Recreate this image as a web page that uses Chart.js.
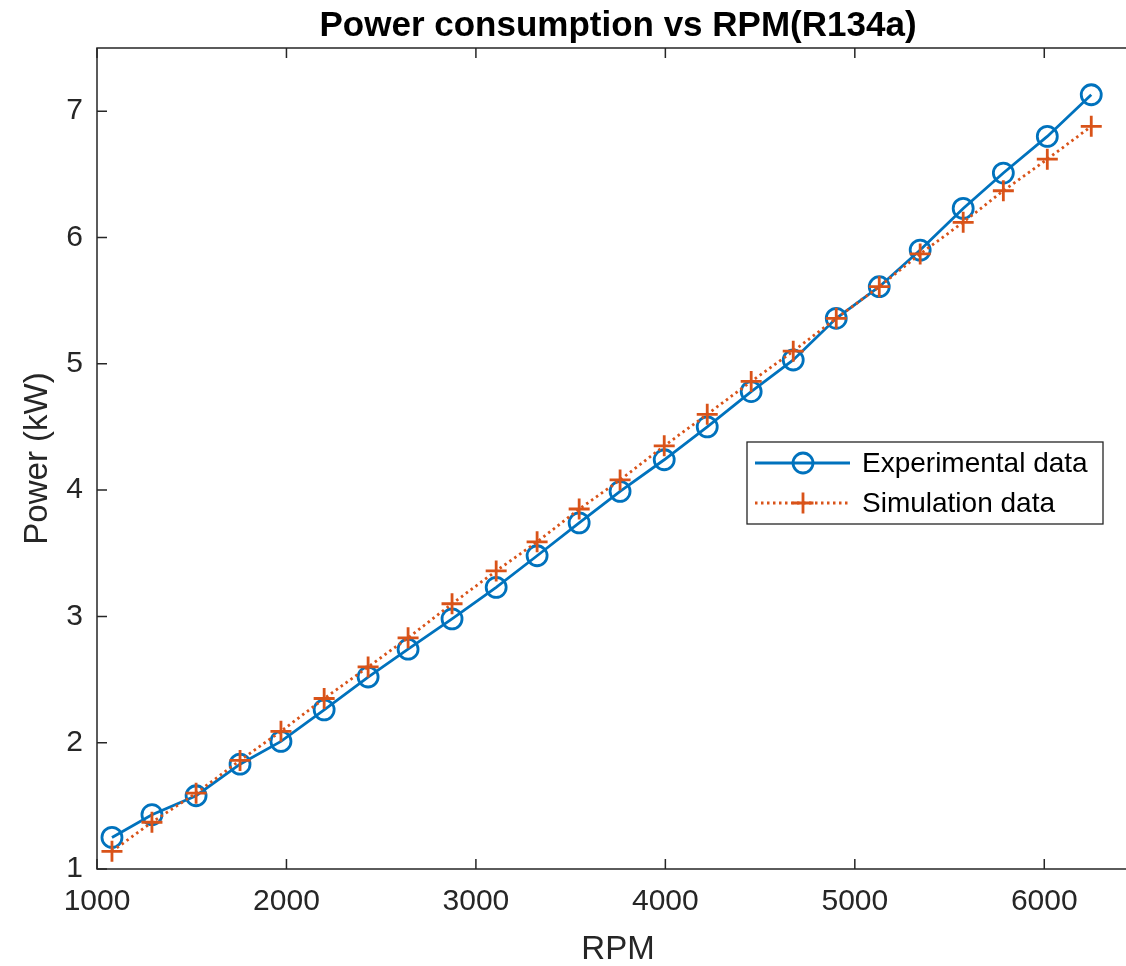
<!DOCTYPE html>
<html><head><meta charset="utf-8">
<script src="https://cdn.jsdelivr.net/npm/chart.js@4/dist/chart.umd.min.js"></script>
<style>html,body{margin:0;padding:0;overflow:hidden;background:#fff;width:1126px;height:966px}
canvas{display:block}</style></head>
<body><canvas id="c" width="1126" height="966" style="width:1126px;height:966px"></canvas>
<script>
const rpm = [1079,1290,1523,1755,1971,2199,2431,2642,2874,3107,3323,3545,3761,3994,4221,4453,4675,4902,5129,5345,5572,5784,6016,6248];
const experimental = [1.25,1.43,1.58,1.83,2.01,2.26,2.52,2.74,2.98,3.23,3.48,3.74,3.99,4.24,4.50,4.78,5.03,5.36,5.61,5.90,6.23,6.51,6.80,7.13];
const simulation = [1.14,1.37,1.60,1.86,2.09,2.35,2.60,2.83,3.10,3.36,3.59,3.85,4.08,4.35,4.60,4.86,5.10,5.36,5.61,5.87,6.12,6.37,6.62,6.88];
const xTicks = [1000,2000,3000,4000,5000,6000];
const yTicks = [1,2,3,4,5,6,7];
const xRange = [1000, 6500];   // the right edge of the axes lies just outside the picture
const yRange = [1, 7.5];
const seriesNames = ['Experimental data','Simulation data'];
const titleText = 'Power consumption vs RPM(R134a)';
const xLabel = 'RPM';
const yLabel = 'Power (kW)';

const FONT = "'Liberation Sans', Arial, Helvetica, sans-serif";
const AX = '#262626';
const BLUE = '#0072BD';
const ORANGE = '#D95319';

const boxPlugin = {
  id: 'mbox',
  afterLayout(chart) {
    const a = chart.chartArea, xs = chart.scales.x;
    const R = a.left + 1042;           // axes box extends past the visible canvas
    a.right = R; a.width = R - a.left;
    xs.right = R; xs.width = R - xs.left;
    xs.configure();
    if (chart.titleBlock) chart.titleBlock.right = R;
  },
  afterDraw(chart) {
    const ctx = chart.ctx, a = chart.chartArea;
    const xs = chart.scales.x, ys = chart.scales.y;
    ctx.save();
    ctx.strokeStyle = AX; ctx.lineWidth = 1.5;
    ctx.strokeRect(a.left, a.top, a.right - a.left, a.bottom - a.top);
    ctx.beginPath();
    const L = 10;
    xs.ticks.forEach(t => {
      const p = xs.getPixelForValue(t.value);
      ctx.moveTo(p, a.bottom); ctx.lineTo(p, a.bottom - L);
      ctx.moveTo(p, a.top); ctx.lineTo(p, a.top + L);
    });
    ys.ticks.forEach(t => {
      const p = ys.getPixelForValue(t.value);
      ctx.moveTo(a.left, p); ctx.lineTo(a.left + L, p);
      ctx.moveTo(a.right, p); ctx.lineTo(a.right - L, p);
    });
    ctx.stroke();
    // legend
    const bx = 747, by = 442, bw = 356, bh = 82;
    ctx.fillStyle = '#fff'; ctx.fillRect(bx, by, bw, bh);
    ctx.lineWidth = 1.3; ctx.strokeStyle = AX; ctx.strokeRect(bx, by, bw, bh);
    const rows = [463, 503];
    chart.data.datasets.forEach((ds, i) => {
      const y = rows[i];
      ctx.strokeStyle = ds.borderColor; ctx.lineWidth = ds.borderWidth;
      ctx.setLineDash(ds.borderDash || []);
      ctx.beginPath(); ctx.moveTo(755, y); ctx.lineTo(850, y); ctx.stroke();
      ctx.setLineDash([]);
      ctx.lineWidth = ds.pointBorderWidth;
      ctx.beginPath();
      if (ds.pointStyle === 'circle') {
        ctx.arc(803, y, ds.pointRadius, 0, Math.PI * 2);
      } else {
        const r = ds.pointRadius;
        ctx.moveTo(803 - r, y); ctx.lineTo(803 + r, y);
        ctx.moveTo(803, y - r); ctx.lineTo(803, y + r);
      }
      ctx.stroke();
      ctx.fillStyle = '#000';
      ctx.font = '28px ' + FONT;
      ctx.textBaseline = 'middle'; ctx.textAlign = 'left';
      ctx.fillText(ds.label, 862, y + 1);
    });
    ctx.restore();
  }
};

new Chart(document.getElementById('c'), {
  type: 'line',
  data: {
    datasets: [
      {
        label: seriesNames[0],
        data: rpm.map((x, i) => ({ x, y: experimental[i] })),
        borderColor: BLUE, borderWidth: 2.8,
        pointStyle: 'circle', pointRadius: 10, pointBorderWidth: 2.8,
        pointBorderColor: BLUE, pointBackgroundColor: 'rgba(0,0,0,0)',
        backgroundColor: 'rgba(0,0,0,0)', fill: false, tension: 0, order: 2
      },
      {
        label: seriesNames[1],
        data: rpm.map((x, i) => ({ x, y: simulation[i] })),
        borderColor: ORANGE, borderWidth: 2.8, borderDash: [2.5, 3.5],
        pointStyle: 'cross', pointRadius: 10.5, pointBorderWidth: 2.8,
        pointBorderColor: ORANGE, pointBackgroundColor: ORANGE,
        backgroundColor: 'rgba(0,0,0,0)', fill: false, tension: 0, order: 1
      }
    ]
  },
  options: {
    responsive: false, animation: false, devicePixelRatio: 1,
    layout: { padding: { left: 0, right: 0, top: 0, bottom: 0 } },
    plugins: {
      legend: { display: false },
      tooltip: { enabled: false },
      title: {
        display: true, text: titleText, fullSize: false, color: '#000',
        font: { family: FONT, size: 35, weight: 'bold', lineHeight: 1.2 },
        padding: { top: 5, bottom: 1 }
      }
    },
    scales: {
      x: {
        type: 'linear', min: xRange[0], max: xRange[1],
        afterBuildTicks: s => { s.ticks = xTicks.map(v => ({ value: v })); },
        afterFit: s => { s.height = 97; s.paddingLeft = 0; s.paddingRight = 0; },
        grid: { display: false, drawTicks: false },
        border: { display: false },
        ticks: { color: AX, padding: 15, maxRotation: 0, callback: v => String(v), font: { family: FONT, size: 30 } },
        title: { display: true, text: xLabel, color: AX, padding: { top: 0, bottom: 0 },
                 font: { family: FONT, size: 33, lineHeight: 1 } }
      },
      y: {
        type: 'linear', min: yRange[0], max: yRange[1],
        afterBuildTicks: s => { s.ticks = yTicks.map(v => ({ value: v })); },
        afterFit: s => { s.width = 97; s.paddingTop = 0; s.paddingBottom = 0; },
        grid: { display: false, drawTicks: false },
        border: { display: false },
        ticks: { color: AX, padding: 14, callback: v => String(v), font: { family: FONT, size: 30 } },
        title: { display: true, text: yLabel, color: AX, padding: { top: 21, bottom: 0 },
                 font: { family: FONT, size: 33, lineHeight: 1 } }
      }
    }
  },
  plugins: [boxPlugin]
});
</script>
</body></html>
